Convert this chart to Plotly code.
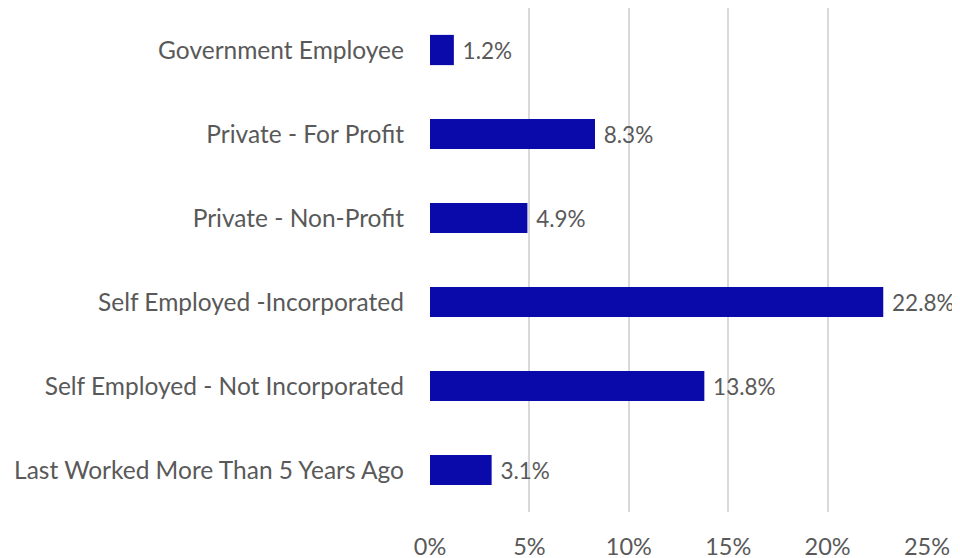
import plotly.graph_objects as go

categories = [
    "Government Employee",
    "Private - For Profit",
    "Private - Non-Profit",
    "Self Employed -Incorporated",
    "Self Employed - Not Incorporated",
    "Last Worked More Than 5 Years Ago",
]
values = [0.012, 0.083, 0.049, 0.228, 0.138, 0.031]
labels = ["1.2%", "8.3%", "4.9%", "22.8%", "13.8%", "3.1%"]
x_ticks = [0, 0.05, 0.10, 0.15, 0.20, 0.25]
x_tick_text = ["0%", "5%", "10%", "15%", "20%", "25%"]

FONT = "Lato"
TEXT_COLOR = "#595959"

fig = go.Figure(
    go.Bar(
        x=values,
        y=categories,
        orientation="h",
        marker=dict(color="#0A0AAA", line=dict(width=0)),
        width=0.36,
        text=[" " + t for t in labels],
        textposition="outside",
        textfont=dict(family=FONT, size=22.5, color=TEXT_COLOR),
        cliponaxis=False,
    )
)

# The page places the figure 8px in from the top-left corner, so margins
# are offset to keep the plot area where the reference has it.
fig.update_layout(
    width=960,
    height=558,
    margin=dict(l=422, r=41, t=0, b=54),
    paper_bgcolor="white",
    plot_bgcolor="white",
    showlegend=False,
    font=dict(family=FONT, size=23, color=TEXT_COLOR),
    xaxis=dict(
        range=[0, 0.25],
        tickvals=x_ticks,
        ticktext=x_tick_text,
        showgrid=True,
        gridcolor="#D9D9D9",
        gridwidth=1.5,
        zeroline=False,
        showline=False,
        ticks="",
        automargin=False,
        ticklabelstandoff=18,
        tickfont=dict(family=FONT, size=23.5, color=TEXT_COLOR),
    ),
    yaxis=dict(
        categoryorder="array",
        categoryarray=categories[::-1],
        showgrid=False,
        zeroline=False,
        showline=False,
        ticks="",
        automargin=False,
        ticklabelstandoff=25,
        tickfont=dict(family=FONT, size=24.5, color=TEXT_COLOR),
    ),
)

fig.write_html("out.html")
